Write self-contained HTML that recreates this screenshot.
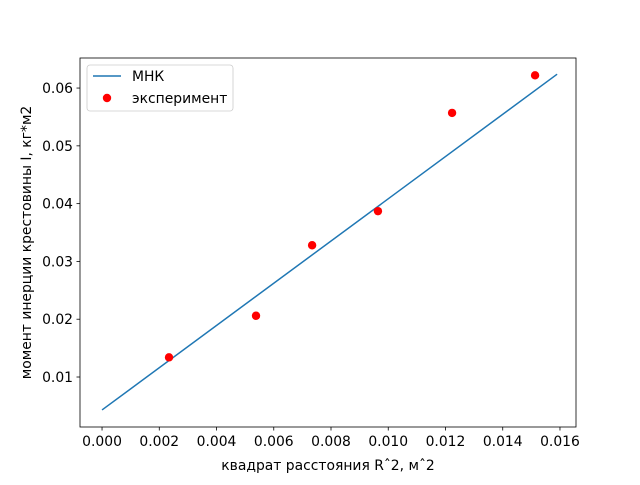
<!DOCTYPE html>
<html><head><meta charset="utf-8"><style>
body{margin:0;background:#fff}
svg{font-family:"DejaVu Sans","Liberation Sans",sans-serif}
</style></head><body>
<svg id="c" width="640" height="480"></svg>
<script>
const xData=[0.00234,0.00538,0.00734,0.00964,0.01223,0.01513];
const yData=[0.0134,0.0206,0.0328,0.0387,0.0557,0.0622];
const fitX=[0.0,0.0159];
const fitY=[0.0043,0.0624];
const xTicks=[0,0.002,0.004,0.006,0.008,0.010,0.012,0.014,0.016];
const yTicks=[0.01,0.02,0.03,0.04,0.05,0.06];
const L=80,R=576,T=58,B=427;
const xMin=-0.00077,xMax=0.01656,yMin=0.00135,yMax=0.0652;
const sx=v=>L+(v-xMin)/(xMax-xMin)*(R-L);
const sy=v=>B-(v-yMin)/(yMax-yMin)*(B-T);
const svg=document.getElementById('c');
const NS='http://www.w3.org/2000/svg';
const FS=13.9;
function mk(t,a,txt){const e=document.createElementNS(NS,t);for(const k in a)e.setAttribute(k,a[k]);if(txt!==undefined)e.textContent=txt;svg.appendChild(e);return e;}
let e=mk('rect',{x:L,y:T,width:R-L,height:B-T,fill:'none',stroke:'#000','stroke-width':0.8});


xTicks.forEach(v=>{const x=sx(v);
let t=mk('line',{x1:x,x2:x,y1:B,y2:B+3.5,stroke:'#000','stroke-width':0.8});


let l=mk('text',{x:x,y:B+19,'font-size':FS,'text-anchor':'middle'},v.toFixed(3));

});
yTicks.forEach(v=>{const y=sy(v);
let t=mk('line',{x1:L-3.5,x2:L,y1:y,y2:y,stroke:'#000','stroke-width':0.8});


let l=mk('text',{x:L-7,y:y+5,'font-size':FS,'text-anchor':'end'},v.toFixed(2));

});
let ln=mk('line',{x1:sx(fitX[0]),y1:sy(fitY[0]),x2:sx(fitX[1]),y2:sy(fitY[1]),stroke:'#1f77b4','stroke-width':1.5});


xData.forEach((v,i)=>{let c=mk('circle',{cx:sx(v),cy:sy(yData[i]),r:4.2,fill:'#ff0000'});

});
let xt=mk('text',{x:(L+R)/2,y:470,'font-size':FS,'text-anchor':'middle'},'квадрат расстояния Rˆ2, мˆ2');


let yt=mk('text',{x:0,y:0,'font-size':FS,'text-anchor':'middle',transform:`translate(31,${(T+B)/2}) rotate(-90)`},'момент инерции крестовины I, кг*м2');


let lg=mk('rect',{x:87,y:65,width:146,height:46,rx:3,fill:'#fff',stroke:'#ccc','stroke-width':0.8});


let ll=mk('line',{x1:93,x2:121,y1:76,y2:76,stroke:'#1f77b4','stroke-width':1.5});


let lt1=mk('text',{x:132,y:81,'font-size':FS},'МНК');


let lc=mk('circle',{cx:107,cy:98,r:4.2,fill:'#ff0000'});


let lt2=mk('text',{x:132,y:103,'font-size':FS},'эксперимент');


</script>
</body></html>
